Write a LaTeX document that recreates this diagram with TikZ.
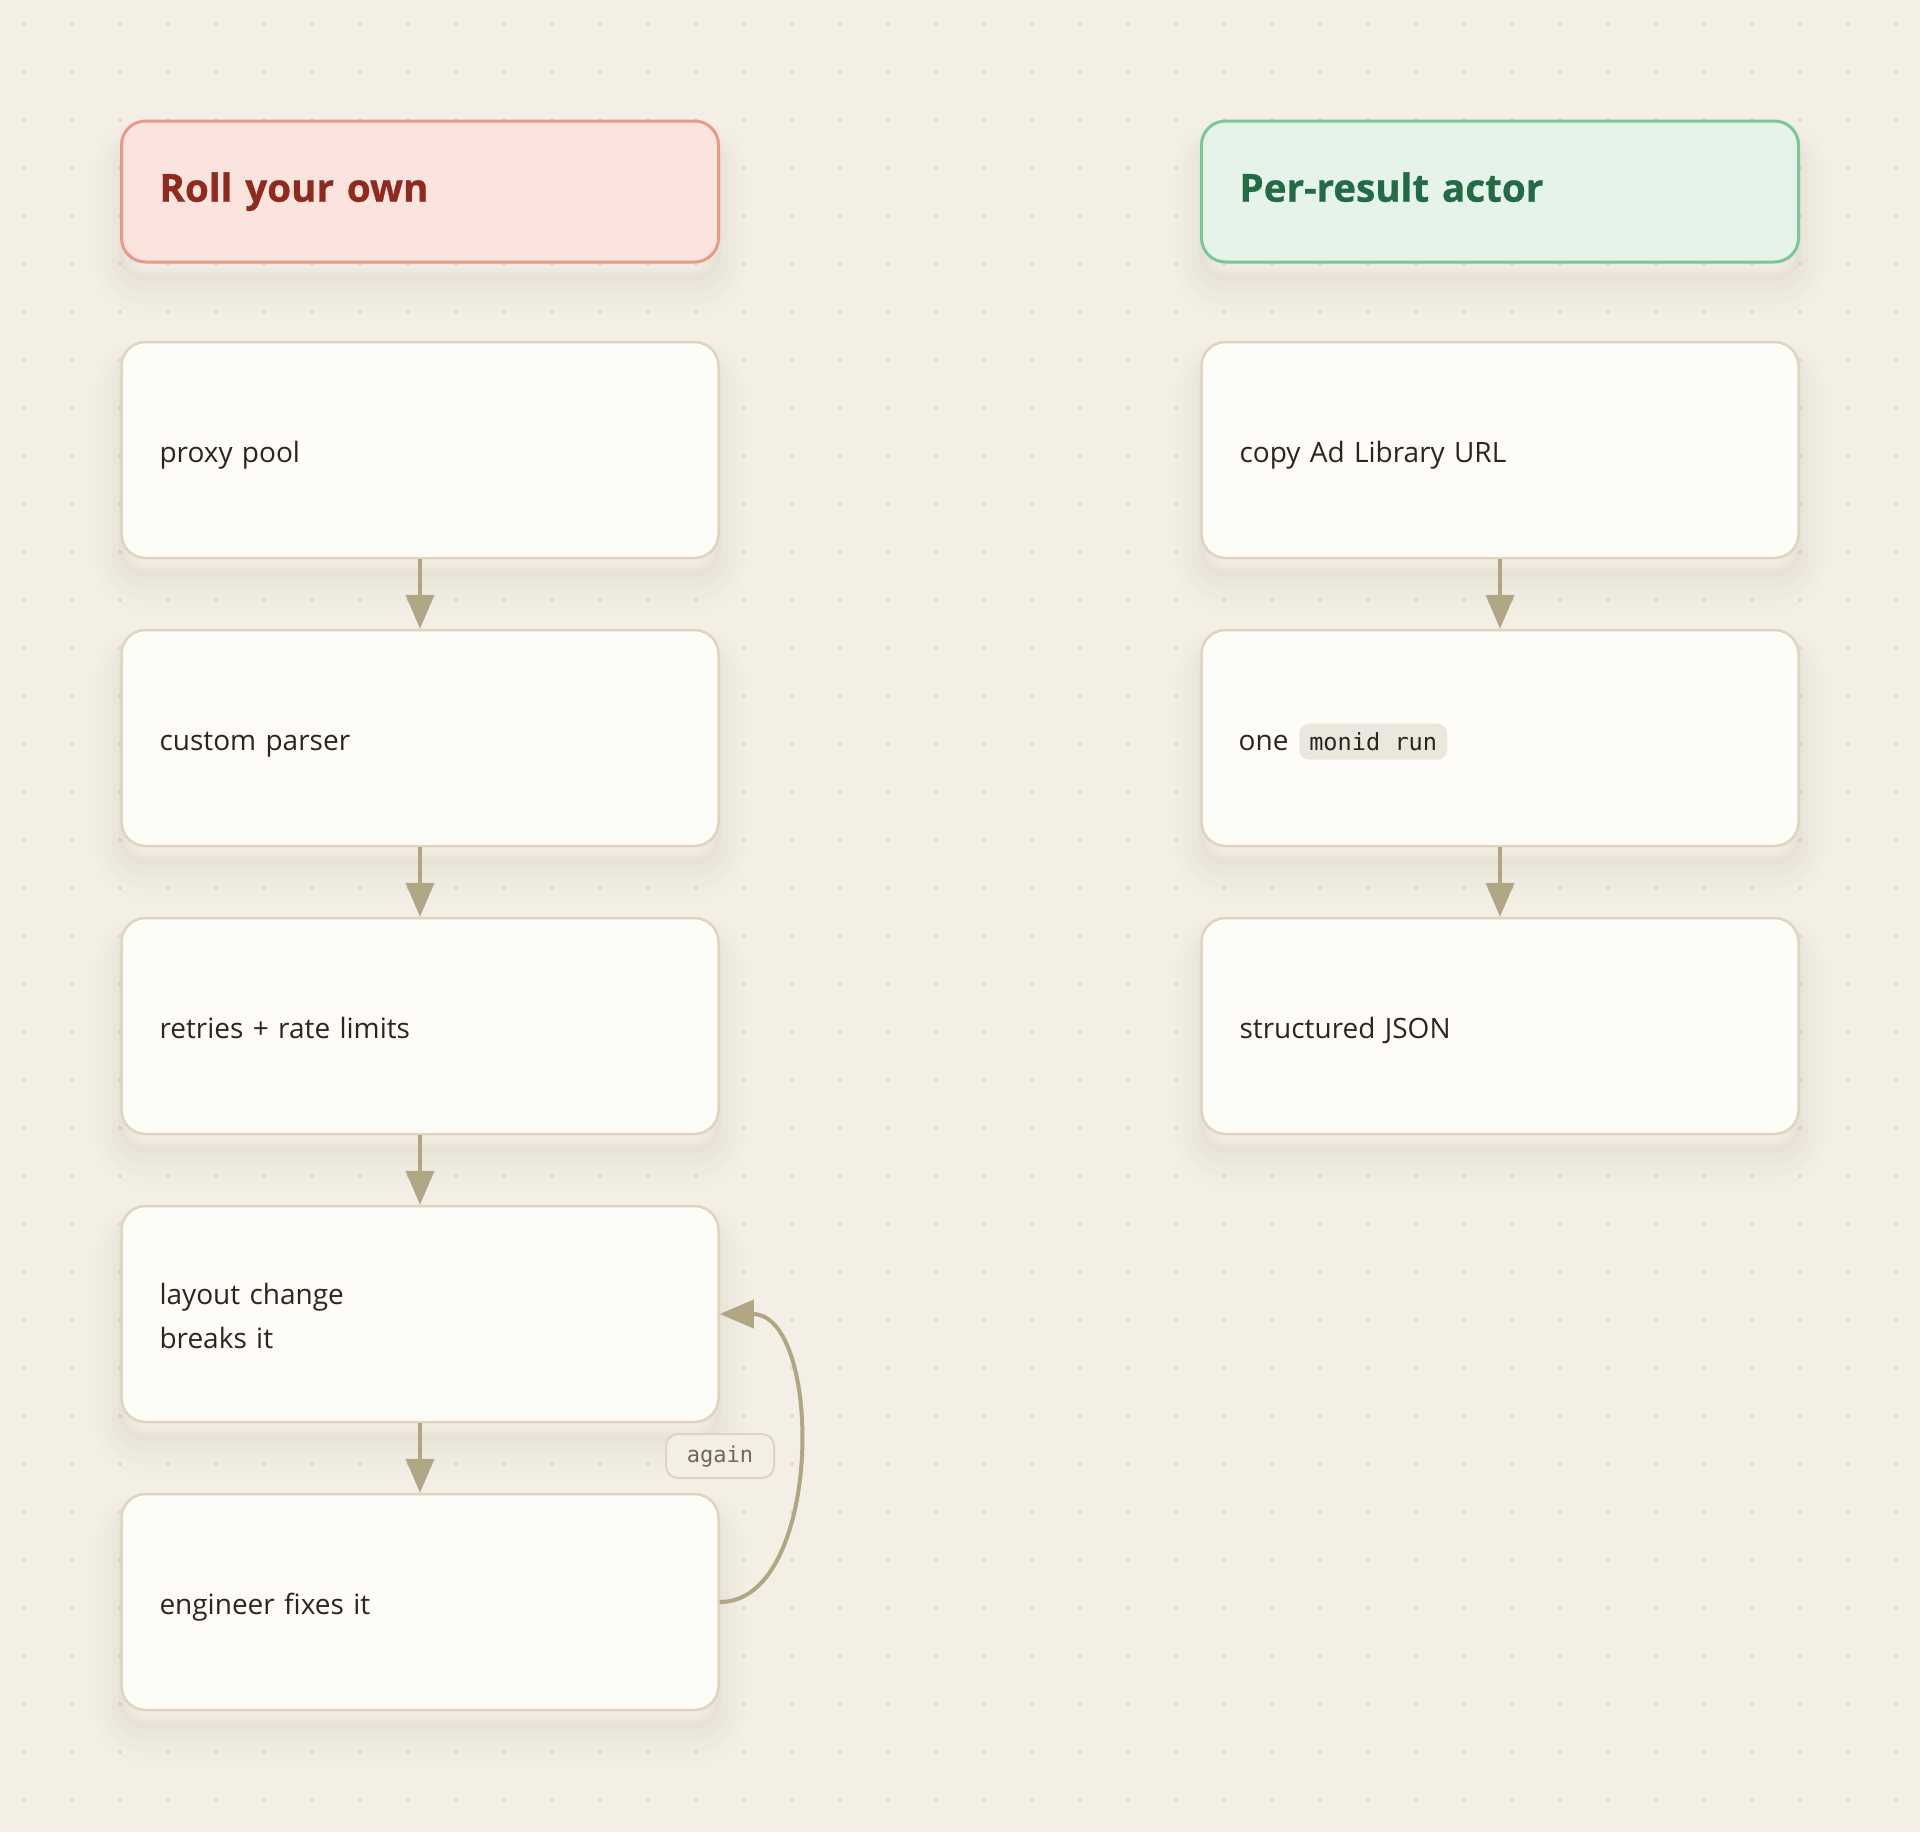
\documentclass[tikz,border=0pt]{standalone}
\usepackage{fontspec}
\setmainfont{Open Sans}
\newfontfamily\titlefont{Open Sans}[BoldFeatures={FakeBold=0.8}]
\newfontfamily\monofont{DejaVu Sans Mono}
\usetikzlibrary{arrows.meta}

\definecolor{bgc}{HTML}{F3EFE5}
\definecolor{dotc}{HTML}{E3DDD0}
\definecolor{cardfill}{HTML}{FEFCF6}
\definecolor{cardborder}{HTML}{DED4C0}
\definecolor{shadowc}{HTML}{A89C7C}
\definecolor{arrowc}{HTML}{B0A684}
\definecolor{ink}{HTML}{2B2520}
\definecolor{chipfill}{HTML}{ECE7DD}
\definecolor{labeltext}{HTML}{6E675A}
\definecolor{redfill}{HTML}{FBE4DE}
\definecolor{redborder}{HTML}{E8998A}
\definecolor{redtext}{HTML}{8E2A1E}
\definecolor{greenfill}{HTML}{E6F3E8}
\definecolor{greenborder}{HTML}{7CC79A}
\definecolor{greentext}{HTML}{236B45}

\newcommand{\cardstrut}{\rule[-3.8pt]{0pt}{19.8pt}}
\newcommand{\headstrut}{\rule[-4.8pt]{0pt}{19.8pt}}

\tikzset{
  softshadow/.style={
    preaction={draw=shadowc, draw opacity=0.05, line width=3pt, transform canvas={yshift=-8pt}},
    preaction={draw=shadowc, draw opacity=0.04, line width=10pt, transform canvas={yshift=-10pt}},
    preaction={draw=shadowc, draw opacity=0.03, line width=18pt, transform canvas={yshift=-12pt}},
    preaction={draw=shadowc, draw opacity=0.02, line width=26pt, transform canvas={yshift=-13pt}}
  },
  boxbase/.style={rounded corners=12pt, minimum width=298.5pt, text width=260.5pt,
    inner xsep=19pt, inner ysep=0pt, align=left, softshadow},
  card/.style={boxbase, draw=cardborder, line width=1.25pt, fill=cardfill,
    minimum height=108pt, text=ink, font=\fontsize{14}{22}\selectfont,
    execute at begin node={\cardstrut}, execute at end node={\cardstrut}},
  header/.style={boxbase, line width=1.5pt, minimum height=70.5pt,
    font=\titlefont\bfseries\fontsize{19.3}{24}\selectfont,
    execute at begin node={\headstrut}},
  redhead/.style={header, draw=redborder, fill=redfill, text=redtext},
  greenhead/.style={header, draw=greenborder, fill=greenfill, text=greentext},
  bodytext/.style={inner sep=0pt, text=ink, font=\fontsize{14}{22}\selectfont},
  chip/.style={fill=chipfill, rounded corners=5pt, inner xsep=5pt, inner ysep=0pt,
    minimum height=18pt, text=ink, font=\monofont\fontsize{11.8}{14}\selectfont},
  flow/.style={draw=arrowc, line width=2pt, -{Triangle[length=17pt,width=14pt]}},
  looplabel/.style={draw=cardborder, line width=1pt, fill=bgc, rounded corners=6pt,
    minimum width=54pt, minimum height=22pt, inner sep=0pt, text=labeltext,
    font=\monofont\fontsize{11}{13}\selectfont}
}

\begin{document}
\begin{tikzpicture}[x=0.5pt, y=-0.5pt]
\useasboundingbox (0,0) rectangle (1920,1832);
\fill[bgc] (0,0) rectangle (1920,1832);
\foreach \i in {0,...,39} {
  \foreach \j in {0,...,37} {
    \fill[dotc] ({24+48*\i},{24+48*\j}) circle (1.1pt);
  }
}

% left column
\node[redhead] (hleft) at (420,191.5) {Roll your own};
\node[card] (proxy) at (420,450) {proxy pool};
\node[card] (parser) at (420,738) {custom parser};
\node[card] (retries) at (420,1026) {retries + rate limits};
\node[card] (layout) at (420,1314) {layout change\\breaks it};
\node[card] (engineer) at (420,1602) {engineer fixes it};

% right column
\node[greenhead] (hright) at (1500,191.5) {Per-result actor};
\node[card] (copy) at (1500,450) {copy Ad Library URL};
\node[card] (run) at (1500,738) {};
\node[bodytext, anchor=west] (onetxt) at ([xshift=19pt,yshift=-2.5pt]run.west) {one};
\node[chip, anchor=base west] (chipn) at ([xshift=5pt]onetxt.base east) {monid run};
\node[card] (json) at (1500,1026) {structured JSON};

% connectors
\draw[flow] (proxy.south) -- (parser.north);
\draw[flow] (parser.south) -- (retries.north);
\draw[flow] (retries.south) -- (layout.north);
\draw[flow] (layout.south) -- (engineer.north);
\draw[flow] (copy.south) -- (run.north);
\draw[flow] (run.south) -- (json.north);
\draw[flow] (engineer.east) .. controls +(52pt,0) and +(52pt,0) .. (layout.east);
\node[looplabel] (again) at (720,1456) {again};
\end{tikzpicture}
\end{document}
